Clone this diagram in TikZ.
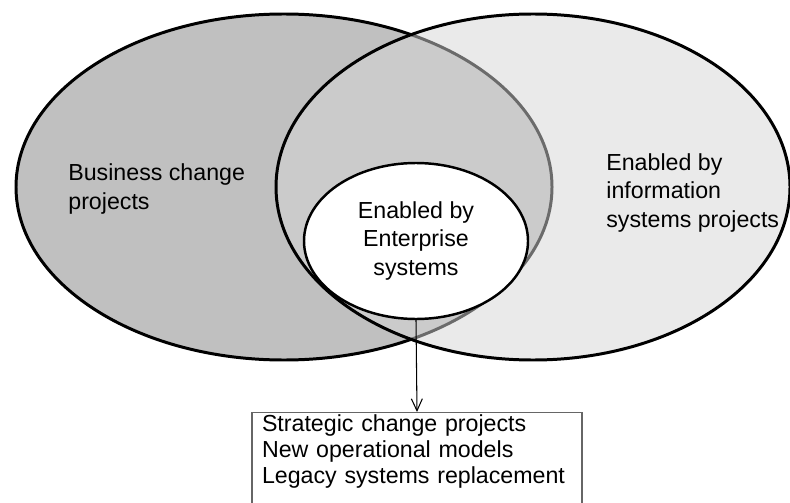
\documentclass[tikz,border=0pt]{standalone}
\usepackage{fontspec}
\setmainfont{Liberation Sans}
\usepackage{tikz}
\usetikzlibrary{shapes.geometric,arrows.meta}
\definecolor{bizgray}{gray}{0.753}
\definecolor{isgray}{gray}{0.84}

\begin{document}
\begin{tikzpicture}[>={Straight Barb[length=2.4mm,width=2.2mm]},
        bigset/.style={ellipse,draw=black,line width=1.7pt,inner sep=0pt},
        settext/.style={inner sep=0pt,align=left,font=\fontsize{13.2}{16.4}\selectfont}]
        \useasboundingbox (0,0) rectangle (15.8,10.04);
        \node[bigset,fill=bizgray,minimum width=10.72cm,minimum height=6.92cm] (business) at (5.68,6.30) {};
        \node[bigset,fill=isgray,fill opacity=0.5,draw opacity=1,minimum width=10.28cm,minimum height=6.92cm] (infosys) at (10.66,6.30) {};
        \node[settext,anchor=west] (businesslabel) at (1.36,6.26) {Business change\\projects};
        \node[settext,anchor=west] (infosyslabel) at (12.12,6.18) {Enabled by\\information\\systems projects};
        \node[ellipse,draw=black,line width=1.4pt,fill=white,inner sep=0pt,
          minimum width=4.48cm,minimum height=3.12cm,align=center,
          font=\fontsize{13.2}{16.4}\selectfont] (enterprise) at (8.32,5.22) {Enabled by\\Enterprise\\systems};
        \node[draw=black!60,line width=0.6pt,fill=white,anchor=north,text width=6.2cm,
          inner xsep=0.2cm,inner ysep=0.04cm,align=left,
          font=\fontsize{13.2}{14.8}\selectfont] (outcomes) at (8.34,1.80)
          {Strategic change projects\\New operational models\\Legacy systems replacement\rule[-0.8cm]{0pt}{0.1cm}};
        \draw[->,line width=0.6pt] (enterprise.south) -- (outcomes.north);
      \end{tikzpicture}
\end{document}
